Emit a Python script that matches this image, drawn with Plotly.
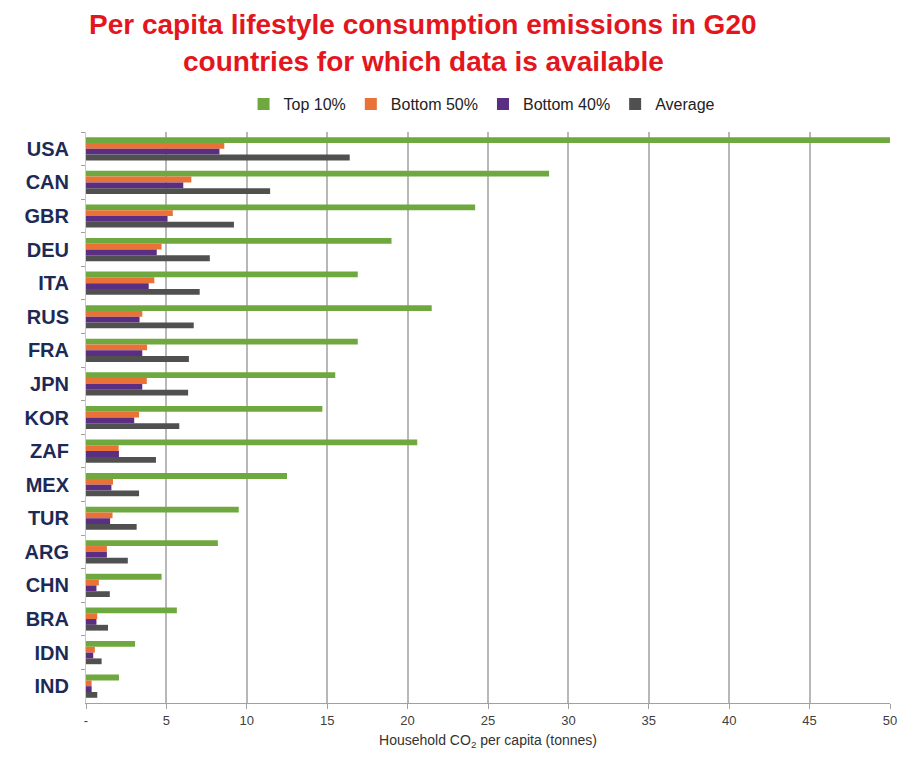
import plotly.graph_objects as go

countries = ["USA", "CAN", "GBR", "DEU", "ITA", "RUS", "FRA", "JPN", "KOR",
             "ZAF", "MEX", "TUR", "ARG", "CHN", "BRA", "IDN", "IND"]
top10 = [50.0, 28.8, 24.2, 19.0, 16.9, 21.5, 16.9, 15.5, 14.7,
         20.6, 12.5, 9.5, 8.2, 4.7, 5.65, 3.05, 2.05]
bottom50 = [8.6, 6.55, 5.4, 4.7, 4.25, 3.5, 3.8, 3.78, 3.3,
            2.03, 1.68, 1.65, 1.3, 0.8, 0.7, 0.55, 0.35]
bottom40 = [8.3, 6.05, 5.07, 4.4, 3.9, 3.33, 3.5, 3.5, 3.0,
            2.05, 1.58, 1.5, 1.3, 0.65, 0.65, 0.45, 0.35]
average = [16.4, 11.45, 9.2, 7.7, 7.07, 6.7, 6.4, 6.35, 5.8,
           4.35, 3.3, 3.15, 2.6, 1.48, 1.37, 0.97, 0.7]

x_tickvals = [0, 5, 10, 15, 20, 25, 30, 35, 40, 45, 50]
x_ticktext = ["-", "5", "10", "15", "20", "25", "30", "35", "40", "45", "50"]

title_lines = ["Per capita lifestyle consumption emissions in G20",
               "countries for which data is available"]

series = [
    ("Top 10%", top10, "#6fa83e"),
    ("Bottom 50%", bottom50, "#ea7236"),
    ("Bottom 40%", bottom40, "#5a2e83"),
    ("Average", average, "#505050"),
]

fig = go.Figure()
for name, vals, color in series:
    fig.add_trace(go.Bar(y=countries, x=vals, name=name, orientation="h",
                         marker=dict(color=color, line=dict(width=0))))

title_font = dict(family="Liberation Sans, Arial", size=28, color="#e3161e", weight="bold")
for line, ypos in zip(title_lines, [1.189, 1.1226]):
    fig.add_annotation(text=line, xref="paper", yref="paper",
                       x=(426 - 86) / 811, y=ypos, xanchor="center", yanchor="middle",
                       showarrow=False, font=title_font)

fig.update_layout(
    width=905, height=762,
    barmode="group", bargap=0.31, bargroupgap=0,
    paper_bgcolor="white", plot_bgcolor="white",
    margin=dict(l=86, r=8, t=132, b=59),
    legend=dict(orientation="h", x=(485 - 86) / 811, xanchor="center",
                y=1.049, yanchor="middle",
                font=dict(family="Liberation Sans, Arial", size=16, color="#222"),
                itemwidth=30, traceorder="normal", itemclick=False),
    font=dict(family="Liberation Sans, Arial"),
)

fig.update_xaxes(
    range=[0, 50], tickvals=x_tickvals, ticktext=x_ticktext,
    showgrid=True, gridcolor="#b8b8b8", gridwidth=1.5,
    showline=True, linecolor="#a0a0a0", linewidth=1,
    ticks="outside", ticklen=5, tickcolor="#a0a0a0",
    tickfont=dict(size=13, color="#404040"),
    title=dict(text="Household CO<sub>2</sub> per capita (tonnes)",
               font=dict(size=14, color="#333"), standoff=8),
    zeroline=False,
)
fig.update_yaxes(
    autorange="reversed", tickson="boundaries",
    ticks="outside", ticklen=4, tickcolor="#a0a0a0",
    showline=True, linecolor="#c8c8c8", linewidth=1,
    tickfont=dict(size=20, color="#1d2a55", weight="bold"),
    ticklabelstandoff=12,
)

fig.write_html("out.html")
